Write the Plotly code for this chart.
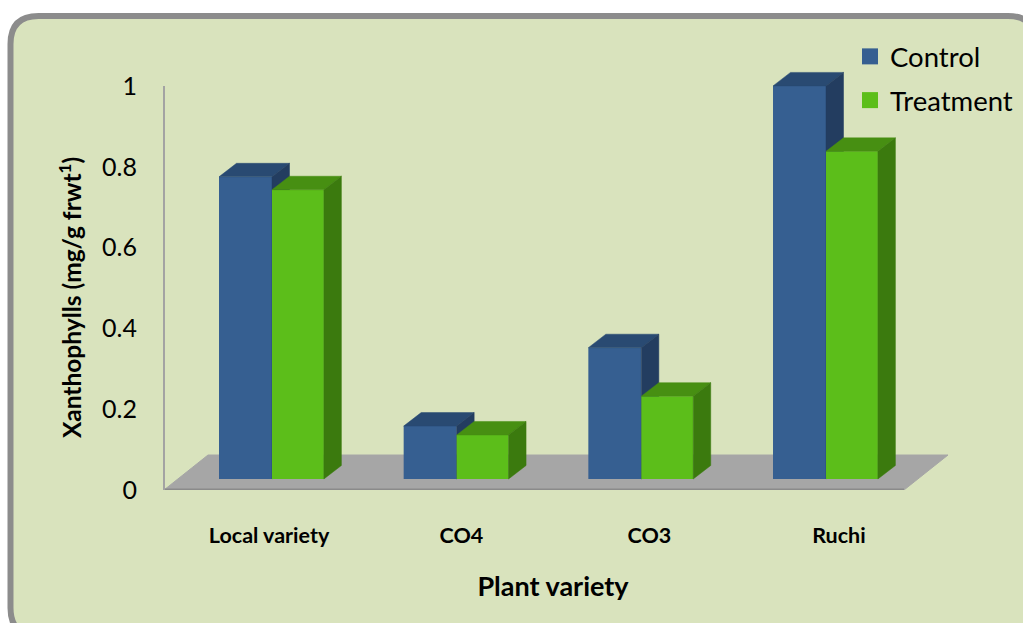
import plotly.graph_objects as go

# Xanthophyll content per plant variety
varieties = ["Local variety", "CO4", "CO3", "Ruchi"]
control = [0.748, 0.131, 0.325, 0.973]
treatment = [0.716, 0.109, 0.205, 0.811]

COLORS = {
    "Control": {"front": "#365F91", "top": "#294A72", "side": "#233D60"},
    "Treatment": {"front": "#5CBE1A", "top": "#478F12", "side": "#3B7A0E"},
}
PANEL_FILL = "#D9E3BD"
PANEL_EDGE = "#8C8C8C"
FLOOR_FILL = "#A6A6A6"
FLOOR_EDGE = "#8A8A8A"
WALL_EDGE = "#A3A3A3"
FONT = "Lato"

# Canvas and plot area, in pixels
W, H = 1023, 623
L, R, T, B = 158, 948, 60, 490
WALL_PX = 164       # pixel of the left wall
ZERO_PX, ONE_PX = 490, 86
PX_PER_X = 184.67   # pixels per category
PX_PER_Y = ZERO_PX - ONE_PX
ORIGIN_X = 272      # pixel of the first group's centre

x_range = [(L - ORIGIN_X) / PX_PER_X, (R - ORIGIN_X) / PX_PER_X]
y_range = [0, (ZERO_PX - T) / PX_PER_Y]
wall_x = (WALL_PX - ORIGIN_X) / PX_PER_X

# Fake-3D extrusion offsets in axis units
DEPTH_X = 17.5 / PX_PER_X
DEPTH_Y = 13.5 / PX_PER_Y
BAR_LIFT = 11 / PX_PER_Y      # bars stand on the floor, above the front edge
FLOOR_DX = 44 / PX_PER_X
FLOOR_DY = 35 / PX_PER_Y
FLOOR_END = (904 - ORIGIN_X) / PX_PER_X
WIDTH_CONTROL = 0.287
WIDTH_TREATMENT = 0.281

# Category labels sit slightly fanned out under the floor
label_positions = [-0.016, 1.026, 2.044, 3.07]


def px_x(p):
    return (p - L) / (R - L)


def px_y(p):
    return (B - p) / (B - T)


def panel_path(x0, y0, x1, y1, r):
    pts = [
        ("M", x0, y0 + r),
        ("Q", x0, y0, x0 + r, y0),
        ("L", x1 - r, y0),
        ("Q", x1, y0, x1, y0 + r),
        ("L", x1, y1 - r),
        ("Q", x1, y1, x1 - r, y1),
        ("L", x0 + r, y1),
        ("Q", x0, y1, x0, y1 - r),
    ]
    out = []
    for cmd, *c in pts:
        pairs = [f"{px_x(c[i]):.5f},{px_y(c[i + 1]):.5f}" for i in range(0, len(c), 2)]
        out.append(cmd + " ".join(pairs))
    return " ".join(out) + " Z"


def block_faces(values, left, width, palette, xa, ya):
    """Top and side faces for one series, derived from its values."""
    xs_top, ys_top, xs_side, ys_side = [], [], [], []
    for i, v in enumerate(values):
        x0 = i + left
        x1 = x0 + width
        y1 = BAR_LIFT + v
        xs_top += [x0, x1, x1 + DEPTH_X, x0 + DEPTH_X, x0, None]
        ys_top += [y1, y1, y1 + DEPTH_Y, y1 + DEPTH_Y, y1, None]
        xs_side += [x1, x1 + DEPTH_X, x1 + DEPTH_X, x1, x1, None]
        ys_side += [BAR_LIFT, BAR_LIFT + DEPTH_Y, y1 + DEPTH_Y, y1, BAR_LIFT, None]
    faces = []
    for xs, ys, color in ((xs_top, ys_top, palette["top"]), (xs_side, ys_side, palette["side"])):
        faces.append(go.Scatter(
            x=xs, y=ys, mode="lines", fill="toself", fillcolor=color,
            line=dict(color=color, width=0.5), cliponaxis=False,
            hoverinfo="skip", showlegend=False, xaxis=xa, yaxis=ya,
        ))
    return faces


fig = go.Figure()

# Control sits on the base axes, Treatment on an overlay so it paints over Control's side faces
positions = list(range(len(varieties)))
fig.add_trace(go.Bar(
    x=positions, y=control, base=BAR_LIFT, offset=-WIDTH_CONTROL, width=WIDTH_CONTROL,
    marker=dict(color=COLORS["Control"]["front"], line=dict(width=0)),
    name="Control", showlegend=False, cliponaxis=False,
))
fig.add_traces(block_faces(control, -WIDTH_CONTROL, WIDTH_CONTROL, COLORS["Control"], "x", "y"))

fig.add_trace(go.Bar(
    x=positions, y=treatment, base=BAR_LIFT, offset=0, width=WIDTH_TREATMENT,
    marker=dict(color=COLORS["Treatment"]["front"], line=dict(width=0)),
    name="Treatment", showlegend=False, xaxis="x2", yaxis="y2", cliponaxis=False,
))
fig.add_traces(block_faces(treatment, 0, WIDTH_TREATMENT, COLORS["Treatment"], "x2", "y2"))

# Legend entries with larger square swatches
for name in COLORS:
    fig.add_trace(go.Scatter(
        x=[None], y=[None], mode="markers", name=name, legendgroup=name,
        marker=dict(symbol="square", size=17, color=COLORS[name]["front"]),
    ))

shapes = [
    # Rounded background panel
    dict(type="path", xref="paper", yref="paper", layer="below",
         path=panel_path(10.5, 16, 1036, 636, 28),
         fillcolor=PANEL_FILL, line=dict(color=PANEL_EDGE, width=6)),
    # Floor of the chart
    dict(type="path", xref="x", yref="y", layer="below",
         path=(f"M{wall_x},0 L{FLOOR_END},0 L{FLOOR_END + FLOOR_DX},{FLOOR_DY} "
               f"L{wall_x + FLOOR_DX},{FLOOR_DY} Z"),
         fillcolor=FLOOR_FILL, line=dict(color=FLOOR_FILL, width=1)),
    dict(type="line", xref="x", yref="y", layer="below",
         x0=wall_x, x1=FLOOR_END, y0=0, y1=0,
         line=dict(color=FLOOR_EDGE, width=3)),
    # Left wall edge, running up to the top tick
    dict(type="line", xref="x", yref="y", layer="below",
         x0=wall_x, x1=wall_x, y0=0, y1=1,
         line=dict(color=WALL_EDGE, width=2)),
]

fig.update_layout(
    width=W, height=H,
    margin=dict(l=L, r=W - R, t=T, b=H - B, autoexpand=False),
    paper_bgcolor="white",
    plot_bgcolor="rgba(0,0,0,0)",
    barmode="overlay",
    font=dict(family=FONT, color="black"),
    shapes=shapes,
    xaxis=dict(
        range=x_range, showgrid=False, zeroline=False, showline=False,
        tickmode="array", tickvals=label_positions, ticktext=varieties,
        ticks="outside", ticklen=26, tickcolor="rgba(0,0,0,0)",
        tickfont=dict(family=FONT, size=21.5, weight="bold"),
        title=dict(text="<b>Plant variety</b>", font=dict(family=FONT, size=27), standoff=30),
    ),
    yaxis=dict(
        range=y_range, showgrid=False, zeroline=False, showline=False,
        tickmode="array", tickvals=[0, 0.2, 0.4, 0.6, 0.8, 1],
        ticktext=["0", "0.2", "0.4", "0.6", "0.8", "1"],
        ticks="outside", ticklen=15, tickcolor="rgba(0,0,0,0)",
        tickfont=dict(family=FONT, size=25),
    ),
    xaxis2=dict(range=x_range, overlaying="x", visible=False),
    yaxis2=dict(range=y_range, overlaying="y", visible=False),
    legend=dict(
        x=px_x(850), y=px_y(32), xanchor="left", yanchor="top",
        bgcolor="rgba(0,0,0,0)", font=dict(family=FONT, size=27.5),
        itemwidth=30, tracegroupgap=5, traceorder="grouped",
    ),
    # Value-axis caption centred on the span of the floor and bars
    annotations=[dict(
        text="<b>Xanthophylls (mg/g frwt<sup>1</sup>)</b>",
        xref="paper", yref="paper", x=px_x(70), y=px_y(298),
        xanchor="center", yanchor="middle", textangle=-90, showarrow=False,
        font=dict(family=FONT, size=24.5, color="black"),
    )],
)

fig.write_html("out.html")
